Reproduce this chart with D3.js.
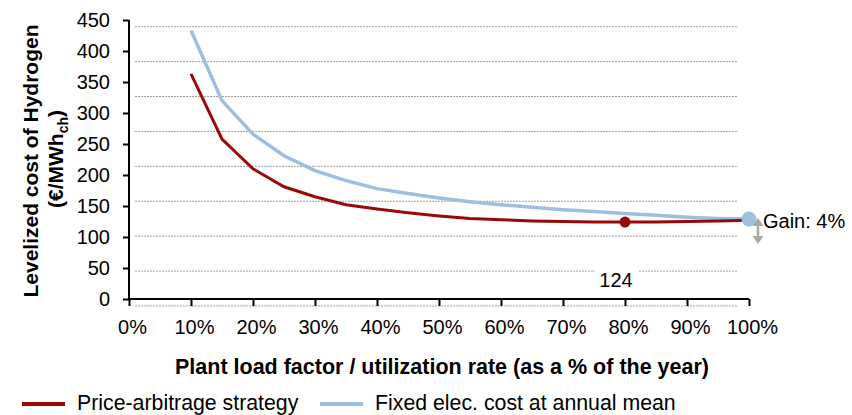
<!DOCTYPE html>
<html><head><meta charset="utf-8">
<script src="https://cdn.jsdelivr.net/npm/d3@7"></script>
<style>body{margin:0;background:#fff}svg{display:block;font-family:Arial,"Liberation Sans",sans-serif}</style>
</head><body><svg id="c" width="852" height="415"></svg>
<script>
const loadFactors = [10,15,20,25,30,35,40,45,50,55,60,65,70,75,80,85,90,95,100];
const priceArbitrage = [363,258,210,181,165,152,145,139,134,130,128,126,125,124,124,124,125,126,127];
const fixedCost = [433,320,266,231,207,191,178,170,163,157,152,148,144,141,138,135,132,130,129];
const yTicks = [0,50,100,150,200,250,300,350,400,450];
const xTicks = [0,10,20,30,40,50,60,70,80,90,100];
const optimum = {x:80, y:124, label:"124"};
const endPoint = {x:100, y:129};
const gainLabel = "Gain: 4%";
const gridIdx = [0,1,2,3,4,5,6,7,8];

const svg = d3.select("#c");
const FONT = "Arial,'Liberation Sans',sans-serif";
const x = d3.scaleLinear().domain([0,100]).range([129,749]);
const y = d3.scaleLinear().domain([0,450]).range([299,20]);
const gy = d3.scaleLinear().domain([0,8]).range([306,26.7]);
const RED = "#980A0A", BLUE = "#9DBFE0";

// gridlines
svg.append("g").selectAll("line").data(gridIdx).join("line")
  .attr("x1",135).attr("x2",738).attr("y1",d=>gy(d)).attr("y2",d=>gy(d))
  .attr("stroke","#a0a0a0").attr("stroke-width",1).attr("stroke-dasharray","2,1");

// label 124 with background
svg.append("rect").attr("x",595).attr("y",264).attr("width",43).attr("height",24).attr("fill","#fff");
svg.append("text").attr("x",616).attr("y",287).attr("text-anchor","middle")
  .attr("font-size",20).text(optimum.label);

// axes
const ya = svg.append("g").attr("transform","translate(129,0)")
  .call(d3.axisLeft(y).tickValues(yTicks).tickSize(6).tickPadding(13));
ya.selectAll("text").attr("font-size",20).attr("fill","#000").attr("font-family",FONT);
const xa = svg.append("g").attr("transform","translate(0,299)")
  .call(d3.axisBottom(x).tickValues(xTicks).tickSize(7).tickPadding(14).tickFormat(d=>d+"%"));
xa.selectAll("text").attr("font-size",20).attr("fill","#000").attr("font-family",FONT).attr("dx",3);
[ya,xa].forEach(a=>{a.select(".domain").attr("stroke","#000").attr("stroke-width",2);
  a.selectAll(".tick line").attr("stroke","#000").attr("stroke-width",2);});
xa.select(".domain").attr("d","M129,0H749");
ya.select(".domain").attr("d","M0,299V20");

// lines
const line = d3.line().x((d,i)=>x(loadFactors[i])).y(d=>y(d));
svg.append("path").datum(fixedCost).attr("d",line).attr("fill","none").attr("stroke",BLUE).attr("stroke-width",3.5);
svg.append("path").datum(priceArbitrage).attr("d",line).attr("fill","none").attr("stroke",RED).attr("stroke-width",3);

// markers
svg.append("circle").attr("cx",x(optimum.x)).attr("cy",y(optimum.y)).attr("r",5.5).attr("fill",RED);
svg.append("circle").attr("cx",x(endPoint.x)).attr("cy",y(endPoint.y)).attr("r",7.5).attr("fill",BLUE);

// gain arrow
const ax = 758, a1 = 218, a2 = 244;
svg.append("line").attr("x1",ax).attr("x2",ax).attr("y1",a1+5).attr("y2",a2-5).attr("stroke","#a9a89e").attr("stroke-width",2.5);
svg.append("path").attr("d",`M${ax-5.5},${a1+8}L${ax},${a1}L${ax+5.5},${a1+8}Z`).attr("fill","#a9a89e");
svg.append("path").attr("d",`M${ax-5.5},${a2-8}L${ax},${a2}L${ax+5.5},${a2-8}Z`).attr("fill","#a9a89e");
svg.append("text").attr("x",763).attr("y",228).attr("font-size",20).text(gainLabel);

// y title
const yt = svg.append("text").attr("transform","translate(38,161) rotate(-90)")
  .attr("text-anchor","middle").attr("font-size",21).attr("font-weight","bold");
yt.append("tspan").attr("x",0).attr("dy",0).text("Levelized cost of Hydrogen");
const yt2 = svg.append("text").attr("transform","translate(63,159) rotate(-90)")
  .attr("text-anchor","middle").attr("font-size",21).attr("font-weight","bold");
yt2.append("tspan").text("(€/MWh");
yt2.append("tspan").attr("font-size",14).attr("dy",5).text("ch");
yt2.append("tspan").attr("dy",-5).text(")");

// x title
svg.append("text").attr("x",442).attr("y",374).attr("text-anchor","middle")
  .attr("font-size",21.5).attr("font-weight","bold").text("Plant load factor / utilization rate (as a % of the year)");

// legend
const leg = [{n:"Price-arbitrage strategy",c:RED,x:22},{n:"Fixed elec. cost at annual mean",c:BLUE,x:320}];
leg.forEach(l=>{
  svg.append("line").attr("x1",l.x).attr("x2",l.x+43).attr("y1",404).attr("y2",404).attr("stroke",l.c).attr("stroke-width",4);
  svg.append("text").attr("x",l.x+55).attr("y",410).attr("font-size",21.3).text(l.n);
});
</script></body></html>
